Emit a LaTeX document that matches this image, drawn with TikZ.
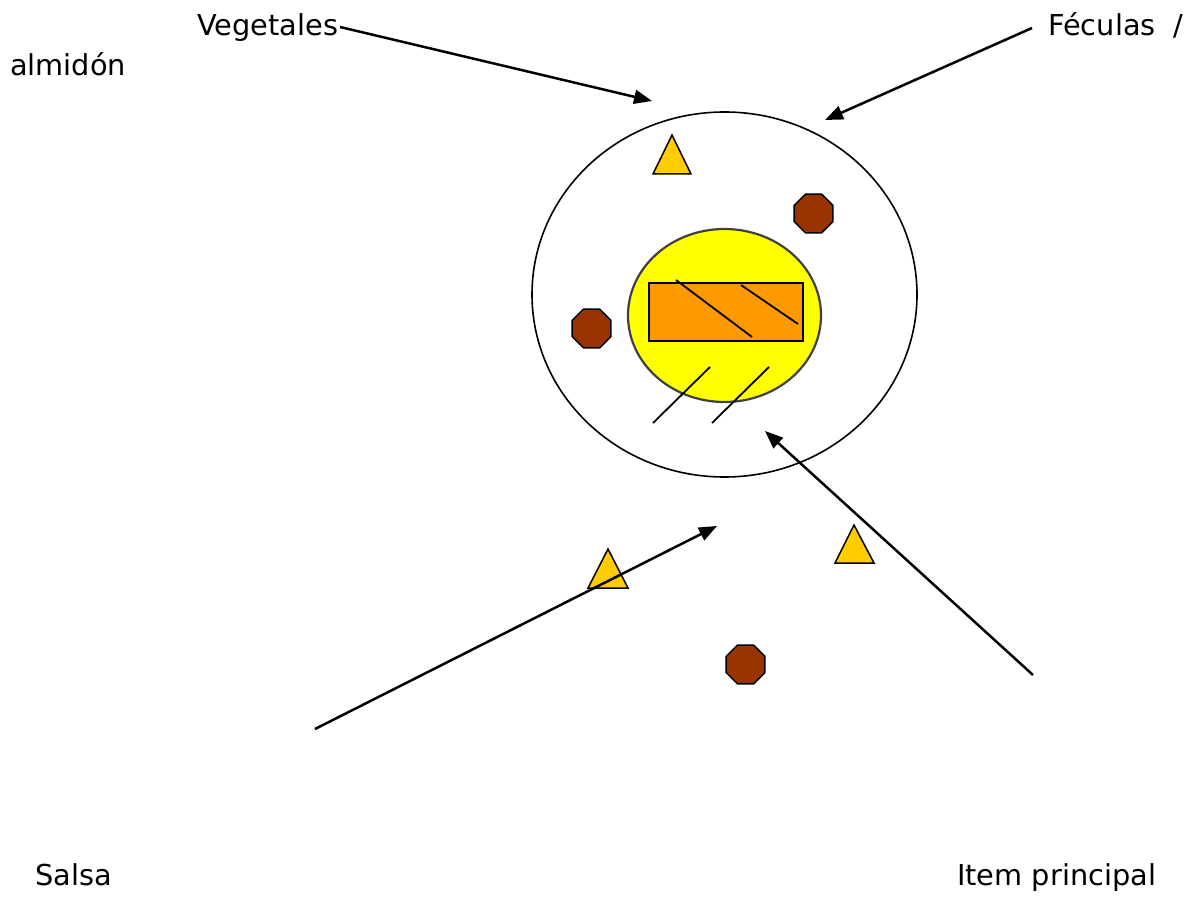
\documentclass[tikz,border=0pt]{standalone}
\usepackage{fontspec}
\setmainfont{DejaVu Sans}
\usetikzlibrary{arrows.meta,shapes.geometric}
\definecolor{tri}{HTML}{FFCC00}
\definecolor{oct}{HTML}{993300}
\definecolor{rectc}{HTML}{FF9900}
\definecolor{yel}{HTML}{FFFF00}
\definecolor{edge}{HTML}{404040}
\tikzset{
  lbl/.style={inner sep=0pt,anchor=base west,font=\fontsize{28.8}{30}\selectfont},
  arr/.style={line width=2.5pt,-{Triangle[length=18pt,width=14pt]}},
  trishape/.style={fill=tri,draw=black,line width=1.5pt,line join=miter},
  octshape/.style={regular polygon,regular polygon sides=8,fill=oct,draw=black,line width=1.5pt,minimum size=42pt,inner sep=0pt},
  hatch/.style={line width=1.8pt}
}
\begin{document}
\begin{tikzpicture}[x=1pt,y=-1pt]
\useasboundingbox (0,0) rectangle (1197,920);
% plate
\draw[line width=1.6pt] (724.5,294.5) ellipse [x radius=192.5,y radius=182.5];
\draw[fill=yel,draw=edge,line width=2.2pt] (724.5,315.5) ellipse [x radius=96.5,y radius=86.5];
\draw[fill=rectc,draw=black,line width=2pt] (649,283) rectangle (803,341);
\draw[hatch] (676,280) -- (752,337);
\draw[hatch] (741,285) -- (798,324);
\draw[hatch] (710,367) -- (653,423);
\draw[hatch] (769,367) -- (712,423);
% triangles
\draw[trishape] (672,135) -- (691,174) -- (653,174) -- cycle;
\draw[trishape] (608,549) -- (628,588) -- (588,588) -- cycle;
\draw[trishape] (854,525) -- (874,563) -- (835,563) -- cycle;
% octagons
\node[octshape] (o1) at (813.5,213.5) {};
\node[octshape] (o2) at (591.5,328.5) {};
\node[octshape] (o3) at (745.5,664.5) {};
% labels
\node[lbl] (veg) at (197,36) {Vegetales};
\node[lbl] (fec) at (1048,36) {Féculas~~/};
\node[lbl] (alm) at (10,76) {almidón};
\node[lbl] (sal) at (35,885) {Salsa};
\node[lbl] (item) at (957,885) {Item principal};
% arrow coordinates
\coordinate (vegS) at (340,27);
\coordinate (vegE) at (652,101);
\coordinate (fecS) at (1032,28);
\coordinate (fecE) at (825,120);
\coordinate (salS) at (315,729);
\coordinate (salE) at (717,526);
\coordinate (itemS) at (1033,675);
\coordinate (itemE) at (765,431);
\draw[arr] (vegS) -- (vegE);
\draw[arr] (fecS) -- (fecE);
\draw[arr] (salS) -- (salE);
\draw[arr] (itemS) -- (itemE);
\end{tikzpicture}
\end{document}
